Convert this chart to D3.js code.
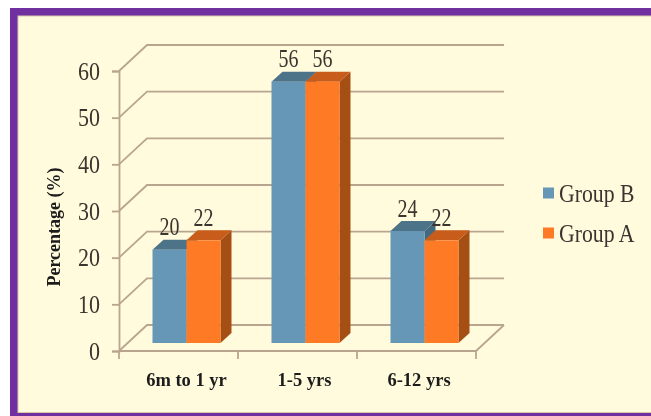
<!DOCTYPE html>
<html>
<head>
<meta charset="utf-8">
<script src="https://cdn.jsdelivr.net/npm/d3@7"></script>
<style>
	html, body { margin: 0; padding: 0; background: #fff; }
	svg { display: block; filter: blur(0.45px); }
	text { font-family: "Liberation Serif", serif; }
</style>
</head>
<body>
<svg id="svgBlock" width="651" height="416"></svg>
<script>
const categories = ["6m to 1 yr", "1-5 yrs", "6-12 yrs"];
const seriesNames = ["Group B", "Group A"];
const groupB = [20, 56, 24];
const groupA = [22, 56, 22];
const yTicks = [0, 10, 20, 30, 40, 50, 60];

function createChart() {
	const svg = d3.select("#svgBlock");

	// panel
	svg.append("rect").attr("x", 10).attr("y", 8).attr("width", 660).attr("height", 420).attr("fill", "#7030a0");
	svg.append("rect").attr("x", 18).attr("y", 16).attr("width", 660).attr("height", 396.5)
		.attr("fill", "#fffbdc").attr("stroke", "#d8c9a8").attr("stroke-width", 1);

	const x0 = d3.scaleBand().domain(categories).range([119, 476]);
	const y = d3.scaleLinear().domain([0, 60]).range([351, 71]);
	const x1 = d3.scaleBand().domain(seriesNames).range([0, 68]);

	// 3d offsets
	const wallX = 28, wallY = -26;
	const barShiftY = -8;
	const depthX = 11, depthY = -10;
	const gridColor = "#b9a58f";
	const textColor = "#3a352f";

	// back wall grid lines with the slanted part on the left wall
	svg.append("g").selectAll("path")
		.data(yTicks)
		.enter()
		.append("path")
		.attr("d", d => `M${x0.range()[0]},${y(d)}L${x0.range()[0] + wallX},${y(d) + wallY}H${x0.range()[1] + wallX}`)
		.attr("fill", "none")
		.attr("stroke", gridColor)
		.attr("stroke-width", 1.8);

	// floor front edge and right slant
	svg.append("path")
		.attr("d", `M${x0.range()[0]},${y(0)}H${x0.range()[1]}L${x0.range()[1] + wallX},${y(0) + wallY}`)
		.attr("fill", "none")
		.attr("stroke", gridColor)
		.attr("stroke-width", 1.8);

	// y axis
	const yAxis = d3.axisLeft(y).tickValues(yTicks).tickSize(7).tickPadding(12);
	const yG = svg.append("g").attr("transform", `translate(${x0.range()[0]},0)`).call(yAxis);
	yG.selectAll("line, path").attr("stroke", gridColor).attr("stroke-width", 1.8);
	// the original digits are tall and narrow, so squeeze them horizontally
	yG.selectAll("text")
		.attr("font-family", "Liberation Serif")
		.attr("font-size", 25)
		.attr("fill", textColor)
		.attr("x", -19 / 0.88)
		.attr("transform", "scale(0.88,1)");

	// x axis
	const xTickPos = [...categories.map(c => x0(c)), x0.range()[1]];
	svg.append("g").selectAll("line")
		.data(xTickPos)
		.enter()
		.append("line")
		.attr("x1", d => d).attr("x2", d => d)
		.attr("y1", y(0)).attr("y2", y(0) + 8)
		.attr("stroke", gridColor)
		.attr("stroke-width", 1.8);

	// the labels are not quite centred under their bars in the original
	const labelShift = [8, 7, 2.5];
	svg.append("g").selectAll("text")
		.data(categories)
		.enter()
		.append("text")
		.attr("x", (d, i) => x0(d) + x0.bandwidth() / 2 + labelShift[i])
		.attr("y", 386)
		.attr("text-anchor", "middle")
		.attr("font-size", 18.5)
		.attr("font-weight", "bold")
		.attr("fill", "#1c1c1c")
		.text(d => d);

	// bars
	const colors = {
		"Group B": { front: "#6797b7", top: "#4d7389", side: "#456a80" },
		"Group A": { front: "#fe7a24", top: "#c85c1b", side: "#a64f14" }
	};
	const rows = [];
	categories.forEach((c, i) => {
		rows.push({ cat: c, name: "Group B", value: groupB[i] });
		rows.push({ cat: c, name: "Group A", value: groupA[i] });
	});
	const barX = d => x0(d.cat) + (x0.bandwidth() - 68) / 2 + 8 + x1(d.name);
	const base = y(0) + barShiftY;
	const barY = d => y(d.value) + barShiftY;
	const bw = x1.bandwidth();

	const bars = svg.append("g").selectAll("g").data(rows).enter().append("g");
	bars.append("path")
		.attr("d", d => `M${barX(d) + bw},${barY(d)}l${depthX},${depthY}V${base + depthY}l${-depthX},${-depthY}Z`)
		.attr("fill", d => colors[d.name].side);
	bars.append("path")
		.attr("d", d => `M${barX(d)},${barY(d)}l${depthX},${depthY}h${bw}l${-depthX},${-depthY}Z`)
		.attr("fill", d => colors[d.name].top);
	bars.append("rect")
		.attr("x", barX)
		.attr("y", barY)
		.attr("width", bw)
		.attr("height", d => base - barY(d))
		.attr("fill", d => colors[d.name].front);

	// value labels
	svg.append("g").selectAll("text")
		.data(rows)
		.enter()
		.append("text")
		.attr("transform", d => `translate(${barX(d) + bw / 2},${barY(d) - 14.5}) scale(0.8,1)`)
		.attr("text-anchor", "middle")
		.attr("font-size", 25)
		.attr("fill", textColor)
		.text(d => d.value);

	// axis title
	svg.append("text")
		.attr("transform", "translate(60,227) rotate(-90)")
		.attr("text-anchor", "middle")
		.attr("font-size", 18)
		.attr("font-weight", "bold")
		.attr("fill", "#1c1c1c")
		.text("Percentage (%)");

	// legend
	const legendY = d3.scalePoint().domain(seriesNames).range([193, 233]);
	const legend = svg.append("g").selectAll("g").data(seriesNames).enter().append("g");
	legend.append("rect")
		.attr("x", 543)
		.attr("y", d => legendY(d) - 5.5)
		.attr("width", 11)
		.attr("height", 11)
		.attr("fill", d => colors[d].front);
	legend.append("text")
		.attr("transform", d => `translate(559,${legendY(d) + 8.5}) scale(0.87,1)`)
		.attr("font-size", 25)
		.attr("fill", textColor)
		.text(d => d);
}

createChart();
</script>
</body>
</html>
